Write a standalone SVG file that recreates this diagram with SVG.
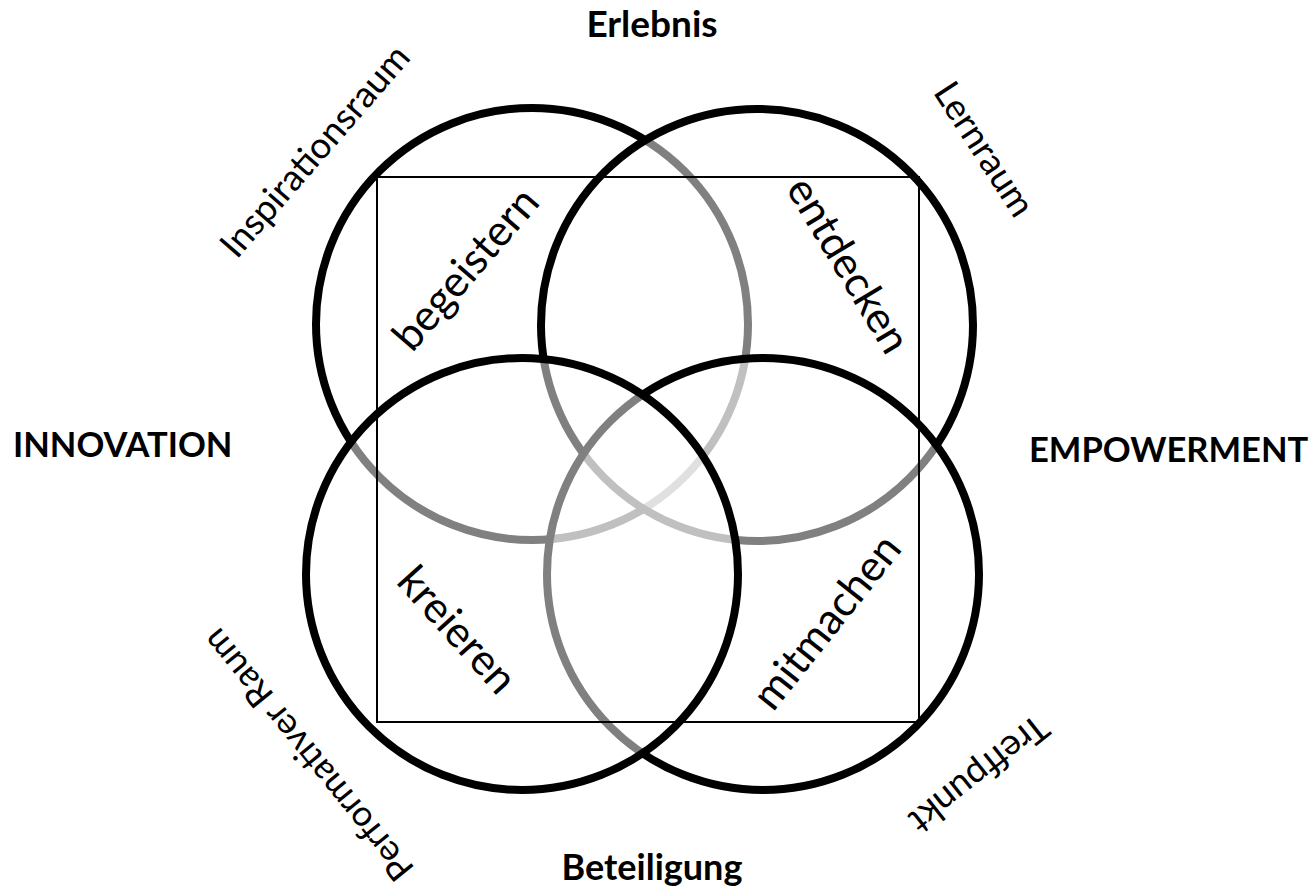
<svg xmlns="http://www.w3.org/2000/svg" width="1314" height="893" viewBox="0 0 1314 893">
<style>
.c{fill:#fff;fill-opacity:0.5;stroke:#000;stroke-width:8}
.sq{fill:none;stroke:#000;stroke-width:2}
.h{font-family:Lato,"Liberation Sans",sans-serif;font-weight:bold;font-size:34.5px;fill:#000}
.r{font-family:Lato,"Liberation Sans",sans-serif;font-size:36.5px;fill:#000;text-anchor:middle}
.w{font-family:Lato,"Liberation Sans",sans-serif;font-size:43px;fill:#000;text-anchor:middle}
</style>
<rect width="1314" height="893" fill="#fff"/>
<g id="circles">
<circle id="circle-tl" class="c" cx="532" cy="324" r="216"/>
<circle id="circle-tr" class="c" cx="757" cy="325" r="216"/>
<circle id="circle-br" class="c" cx="763" cy="574" r="216"/>
<circle id="circle-bl" class="c" cx="522" cy="574" r="216"/>
</g>
<g id="square"><rect class="sq" x="377" y="177" width="542" height="545"/></g>
<g id="headings">
<text id="erlebnis" class="h" x="652" y="37" text-anchor="middle" style="font-size:37px">Erlebnis</text>
<text id="innovation" class="h" x="13" y="457">INNOVATION</text>
<text id="empowerment" class="h" x="1029" y="462">EMPOWERMENT</text>
<text id="beteiligung" class="h" x="652" y="880" text-anchor="middle" style="font-size:36px">Beteiligung</text>
</g>
<g id="spaces">
<text class="r" x="316" y="152" dy="0.3em" transform="rotate(-49 316 152)">Inspirationsraum</text>
<text class="r" x="983" y="150" dy="0.3em" transform="rotate(57 983 150)">Lernraum</text>
<text class="r" x="309" y="754" dy="0.3em" transform="rotate(231 309 754)" style="font-size:35.5px">Performativer Raum</text>
<text class="r" x="978" y="773" dy="0.3em" transform="rotate(141.5 978 773)">Treffpunkt</text>
</g>
<g id="verbs">
<text class="w" x="467" y="270" dy="0.3em" transform="rotate(-49.4 467 270)">begeistern</text>
<text class="w" x="847" y="266" dy="0.3em" transform="rotate(59 847 266)">entdecken</text>
<text class="w" x="456" y="631" dy="0.3em" transform="rotate(48 456 631)">kreieren</text>
<text class="w" x="828" y="623" dy="0.3em" transform="rotate(-51.5 828 623)">mitmachen</text>
</g>
</svg>
